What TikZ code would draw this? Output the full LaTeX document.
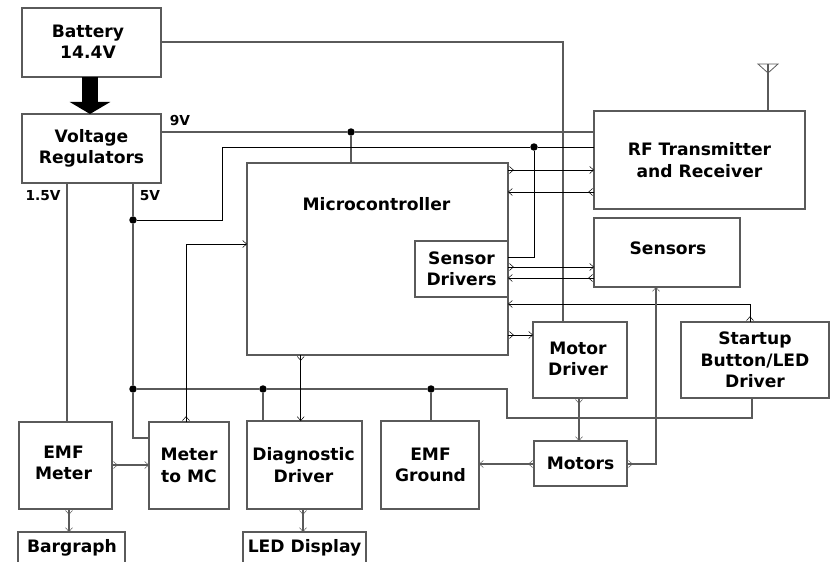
\documentclass[tikz,border=0pt]{standalone}
\usepackage{fontspec}
\setmainfont{DejaVu Sans}[BoldFont={DejaVu Sans Bold}]
\usetikzlibrary{arrows.meta,decorations.markings}
\definecolor{boxgray}{HTML}{5A5A5A}
\tikzset{
  x=1bp,y=-1bp,
  box/.style={draw=boxgray,line width=1.1pt,fill=white,inner sep=0pt,outer sep=0pt,align=center,anchor=north west,
    font=\bfseries\fontsize{17.2}{21.5}\selectfont,text=black},
  txt/.style={inner sep=0pt,outer sep=0pt,align=center,font=\bfseries\fontsize{17.2}{21.5}\selectfont},
  volt/.style={inner sep=0pt,outer sep=0pt,font=\bfseries\fontsize{13.8}{14}\selectfont},
  pwr/.style={draw=boxgray,line width=1.1pt},
  sig/.style={draw=black,line width=0.9pt},
  barb/.tip={Straight Barb[length=4pt,width=7pt,line width=0.5pt]},
  both/.style={-barb,postaction={decorate,decoration={markings,mark=at position 5.8pt with {\arrow{barb}}}}},
  dot/.style={circle,fill=black,inner sep=0pt,minimum size=7.5pt,outer sep=0pt},
}
\begin{document}
\begin{tikzpicture}
\useasboundingbox (0,0) rectangle (835,562);
\clip (0,0) rectangle (835,562);
\fill[white] (0,0) rectangle (835,562);
% boxes
\node[box,minimum width=139bp,minimum height=69bp] (bat) at (22,8) {};
\node[txt] (batlabel) at (88,42) {Battery\\14.4V};
\node[box,minimum width=139bp,minimum height=69bp] (vr) at (22,114) {Voltage\\Regulators};
\node[box,minimum width=261bp,minimum height=192bp] (mc) at (247,163) {};
\node[txt] (mclabel) at (376.5,204) {Microcontroller};
\node[box,minimum width=93bp,minimum height=56bp] (sd) at (415,241) {Sensor\\Drivers};
\node[box,minimum width=211bp,minimum height=98bp] (rf) at (594,111) {RF Transmitter\\and Receiver};
\node[box,minimum width=146bp,minimum height=69bp] (sens) at (594,218) {};
\node[txt] (senslabel) at (668,248) {Sensors};
\node[box,minimum width=94bp,minimum height=76bp] (md) at (533,322) {};
\node[txt] (mdlabel) at (578,359) {Motor\\Driver};
\node[box,minimum width=148bp,minimum height=76bp] (su) at (681,322) {Startup\\Button/LED\\Driver};
\node[box,minimum width=93bp,minimum height=45bp] (mot) at (534,441) {Motors};
\node[box,minimum width=93bp,minimum height=87bp] (emfm) at (19,422) {};
\node[txt] (emfmlabel) at (63.5,463) {EMF\\Meter};
\node[box,minimum width=80bp,minimum height=87bp] (m2mc) at (149,422) {Meter\\to MC};
\node[box,minimum width=115bp,minimum height=88bp] (diag) at (247,421) {};
\node[txt] (diaglabel) at (303.5,465) {Diagnostic\\Driver};
\node[box,minimum width=98bp,minimum height=88bp] (emfg) at (381,421) {};
\node[txt] (emfglabel) at (430.5,465) {EMF\\Ground};
\node[box,minimum width=107bp,minimum height=40bp] (bar) at (18,532) {};
\node[txt] (barlabel) at (72,548) {Bargraph};
\node[box,minimum width=123bp,minimum height=40bp] (led) at (243,532) {};
\node[txt] (ledlabel) at (304.5,548) {LED Display};
% voltage labels
\node[volt] (v9) at (180,121) {9V};
\node[volt] (v15) at (43,196) {1.5V};
\node[volt] (v5) at (150,196) {5V};
% junction dots
\node[dot] (j9) at (351,132) {};
\node[dot] (j5a) at (133,220) {};
\node[dot] (j5b) at (534,147) {};
\node[dot] (g1) at (133,389) {};
\node[dot] (g2) at (263,389) {};
\node[dot] (g3) at (431,389) {};
\coordinate (ant) at (768,73);
\coordinate (anttop) at (768,64);
% thick arrow
\draw[line width=16bp,-{Triangle[length=12bp,width=40bp]}] (90,0 |- bat.south) -- (90,0 |- vr.north);
% power lines
\draw[pwr] (bat.east |- 0,42) -| (md.north -| 563,0);
\draw[pwr] (vr.east |- 0,132) -- (j9) -- (rf.west |- 0,132);
\draw[pwr] (j9) -- (j9 |- mc.north);
\draw[pwr] (67,0 |- vr.south) -- (67,0 |- emfm.north);
\draw[pwr] (j5a |- vr.south) -- (j5a) -- (g1) |- (m2mc.west |- 0,438);
\draw[sig] (j5a) -- (222,220) |- (j5b) -- (rf.west |- j5b);
\draw[sig] (j5b) |- (sd.east |- 0,257);
\draw[pwr] (g1) -- (g2) -- (g3) -- (507,389) |- (752,418) -- (752,0 |- su.south);
\draw[pwr] (g2) -- (g2 |- diag.north);
\draw[pwr] (g3) -- (g3 |- emfg.north);
% signals
\draw[sig,both] (m2mc.north -| 186,0) |- (mc.west |- 0,244);
\draw[sig,both] (mc.east |- 0,170) -- (rf.west |- 0,170);
\draw[sig,both] (rf.west |- 0,192) -- (mc.east |- 0,192);
\draw[sig,both] (sd.east |- 0,267) -- (sens.west |- 0,267);
\draw[sig,both] (sens.west |- 0,278) -- (sd.east |- 0,278);
\draw[sig,both] (su.north -| 750,0) |- (mc.east |- 0,304);
\draw[sig,both] (mc.east |- 0,335) -- (md.west |- 0,335);
\draw[sig,both] (300.7,0 |- mc.south) -- (300.7,0 |- diag.north);
\draw[pwr,both] (303,0 |- diag.south) -- (303,0 |- led.north);
\draw[pwr,both] (69,0 |- emfm.south) -- (69,0 |- bar.north);
\draw[pwr,both] (emfm.east |- 0,465) -- (m2mc.west |- 0,465);
\draw[pwr,both] (579,0 |- md.south) -- (579,0 |- mot.north);
\draw[pwr,both] (mot.west |- 0,464) -- (emfg.east |- 0,464);
\draw[pwr,both] (mot.east |- 0,464) -| (656,0 |- sens.south);
% antenna
\draw[pwr] (ant |- rf.north) -- (anttop);
\draw[draw=boxgray,line width=0.8pt] (758,64) -- (778,64) -- (ant) -- cycle;
\end{tikzpicture}
\end{document}
